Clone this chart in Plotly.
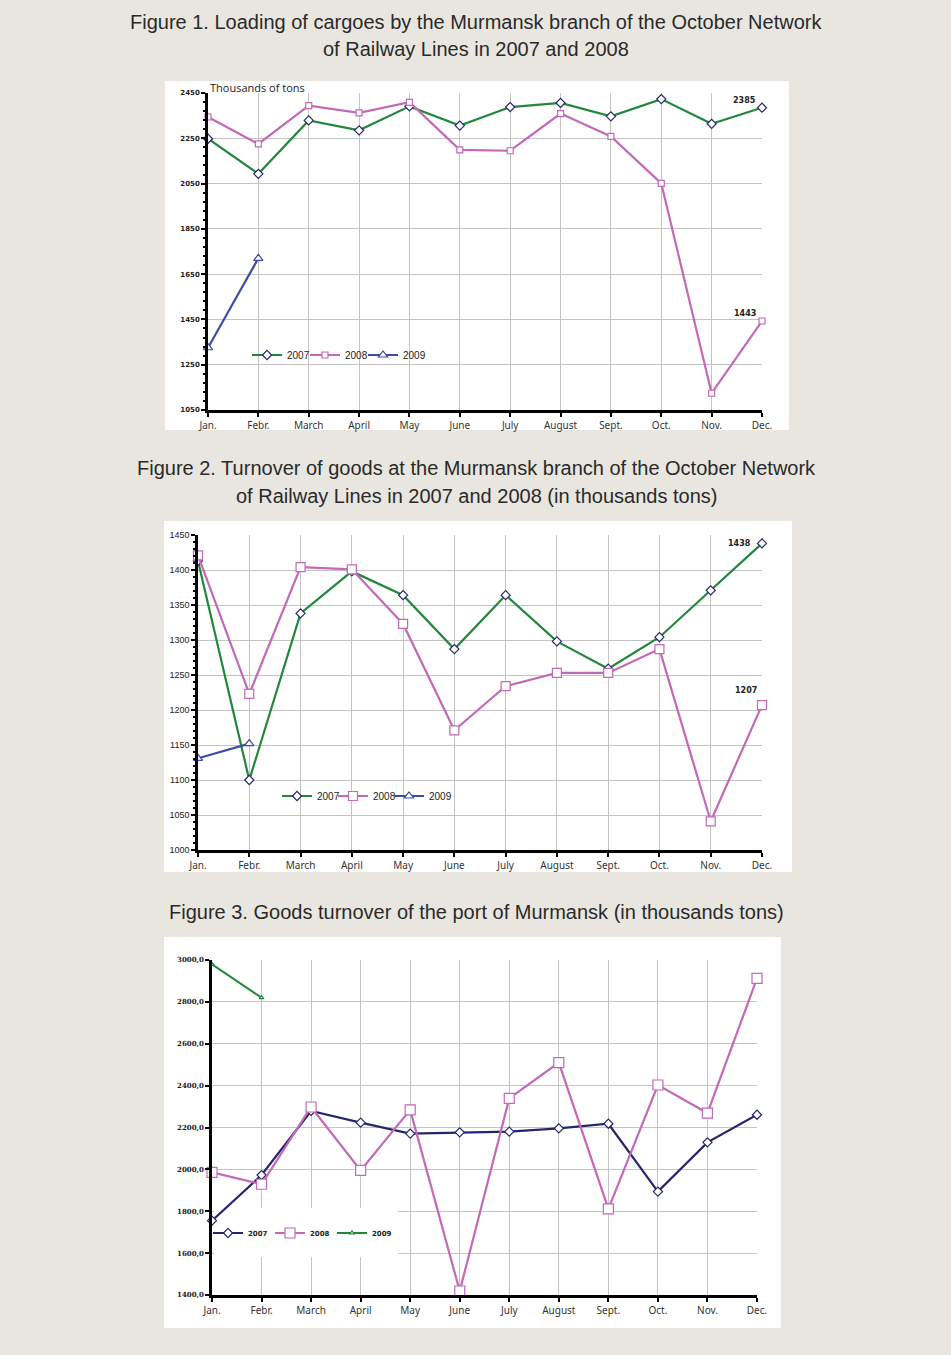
import plotly.graph_objects as go

W, H = 951, 1355

months = ["Jan.", "Febr.", "March", "April", "May", "June", "July",
          "August", "Sept.", "Oct.", "Nov.", "Dec."]

# Figure 1: loading of cargoes (thousands of tons)
f1_2007 = [2248, 2093, 2329, 2285, 2391, 2306, 2388, 2406, 2347, 2423, 2314, 2385]
f1_2008 = [2344, 2225, 2394, 2362, 2409, 2199, 2195, 2359, 2258, 2051, 1124, 1443]
f1_2009 = [1325, 1720]
f1_ticks = [1050, 1250, 1450, 1650, 1850, 2050, 2250, 2450]

# Figure 2: turnover of goods (thousands tons)
f2_2007 = [1413, 1100, 1338, 1398, 1364, 1287, 1364, 1298, 1259, 1304, 1371, 1438]
f2_2008 = [1421, 1223, 1404, 1401, 1323, 1171, 1234, 1253, 1253, 1287, 1041, 1207]
f2_2009 = [1131, 1152]
f2_ticks = [1000, 1050, 1100, 1150, 1200, 1250, 1300, 1350, 1400, 1450]

# Figure 3: port goods turnover (thousands tons)
f3_2007 = [1755, 1973, 2279, 2223, 2171, 2177, 2180, 2196, 2218, 1894, 2129, 2261]
f3_2008 = [1986, 1929, 2298, 1995, 2284, 1419, 2339, 2510, 1811, 2403, 2269, 2912]
f3_2009 = [2979, 2820]
f3_ticks = [1400, 1600, 1800, 2000, 2200, 2400, 2600, 2800, 3000]

BG = "#e9e6e0"
GREEN = "#23873a"
PINK = "#c468b8"
BLUE = "#3d4ca6"
NAVY = "#26266e"
GRID = "#c4c4c4"
TITLE_FONT = "Liberation Sans, Arial, sans-serif"
TICK_FONT = "Noto Sans, Open Sans, sans-serif"

def px(x):
    return x / W

def py(y):
    return 1 - y / H

xs = list(range(12))

fig = go.Figure()

def add(xa, ya, vals, name, color, symbol, size, lcolor, legend, lw=2.2):
    fig.add_trace(go.Scatter(
        x=xs[:len(vals)], y=vals, name=name, mode="lines+markers",
        xaxis=xa, yaxis=ya, legend=legend,
        line=dict(color=color, width=lw),
        marker=dict(symbol=symbol, size=size, color="white",
                    line=dict(color=lcolor, width=1.2)),
        showlegend=True, cliponaxis=False))

def spacer(xa, ya, legend):
    # invisible legend entry so the last real entry's label is not clipped
    fig.add_trace(go.Scatter(x=[None], y=[None], name=" ", mode="lines",
                             xaxis=xa, yaxis=ya, legend=legend,
                             line=dict(color="rgba(0,0,0,0)", width=0),
                             showlegend=True, hoverinfo="skip"))

# Figure 1 traces
add("x", "y", f1_2007, "2007", GREEN, "diamond", 7, NAVY, "legend")
add("x", "y", f1_2008, "2008", PINK, "square", 6, PINK, "legend")
add("x", "y", f1_2009, "2009", BLUE, "triangle-up", 8, BLUE, "legend")
spacer("x", "y", "legend")
# Figure 2 traces
add("x2", "y2", f2_2007, "2007", GREEN, "diamond", 7, NAVY, "legend2")
add("x2", "y2", f2_2008, "2008", PINK, "square", 9, PINK, "legend2")
add("x2", "y2", f2_2009, "2009", BLUE, "triangle-up", 8, BLUE, "legend2")
spacer("x2", "y2", "legend2")
# Figure 3 traces
add("x3", "y3", f3_2007, "2007", NAVY, "diamond", 7, NAVY, "legend3")
add("x3", "y3", f3_2008, "2008", PINK, "square", 10, PINK, "legend3")
add("x3", "y3", f3_2009, "2009", GREEN, "triangle-up", 4, GREEN, "legend3", lw=2)
spacer("x3", "y3", "legend3")

def xaxis(domain, anchor):
    return dict(domain=domain, anchor=anchor, range=[0, 11],
                tickvals=xs, ticktext=months, showgrid=True,
                gridcolor=GRID, gridwidth=1, zeroline=False,
                showline=True, linecolor="black", linewidth=2.5,
                ticks="outside", ticklen=4, tickwidth=2, tickcolor="black",
                tickfont=dict(family=TICK_FONT, size=10, color="#333"),
                fixedrange=True, automargin=False)

def yaxis(domain, anchor, rng, ticks, text, font, minor_dtick=None):
    d = dict(domain=domain, anchor=anchor, range=rng, tickvals=ticks,
             ticktext=text, showgrid=True, gridcolor=GRID, gridwidth=1,
             zeroline=False, showline=True, linecolor="black", linewidth=2.5,
             ticks="outside", ticklen=4, tickwidth=1.5, tickcolor="black",
             tickfont=font, fixedrange=True, automargin=False)
    if minor_dtick:
        d["minor"] = dict(ticks="outside", ticklen=2, tickcolor="black",
                          dtick=minor_dtick, tick0=rng[0], showgrid=False)
    return d

leg_font = dict(family="Liberation Sans, Arial", size=10, color="#222")
layout = dict(
    width=W, height=H, margin=dict(l=0, r=0, t=0, b=0, pad=0, autoexpand=False),
    paper_bgcolor=BG, plot_bgcolor="white",
    xaxis=xaxis([px(208), px(762)], "y"),
    yaxis=yaxis([py(410), py(93)], "x", [1050, 2450], f1_ticks,
                [str(v) for v in f1_ticks],
                dict(family="DejaVu Sans", size=7, color="#222", weight="bold"), 40),
    xaxis2=xaxis([px(198), px(762)], "y2"),
    yaxis2=yaxis([py(850), py(535)], "x2", [1000, 1450], f2_ticks,
                 [str(v) for v in f2_ticks],
                 dict(family="Liberation Sans, Arial, sans-serif", size=9, color="#222"), 10),
    xaxis3=xaxis([px(212), px(757)], "y3"),
    yaxis3=yaxis([py(1295), py(960)], "x3", [1400, 3000], f3_ticks,
                 [f"{v},0" for v in f3_ticks],
                 dict(family="DejaVu Serif", size=7, color="#222", weight="bold")),
    legend=dict(orientation="h", x=px(247), y=py(355), xanchor="left", yanchor="middle",
                bgcolor="rgba(0,0,0,0)", font=leg_font, itemwidth=30,
                entrywidth=13, entrywidthmode="pixels", itemclick=False),
    legend2=dict(orientation="h", x=px(277), y=py(796), xanchor="left", yanchor="middle",
                 bgcolor="rgba(0,0,0,0)", font=leg_font, itemwidth=30,
                 entrywidth=11, entrywidthmode="pixels", itemclick=False),
    legend3=dict(orientation="h", x=px(208), y=py(1233), xanchor="left", yanchor="middle",
                 bgcolor="rgba(0,0,0,0)",
                 font=dict(family="DejaVu Sans", size=7, color="#222", weight="bold"),
                 itemwidth=30, entrywidth=17, entrywidthmode="pixels", itemclick=False),
    showlegend=True,
)
fig.update_layout(**layout)

# white chart panels
panels = [(165, 81, 789, 430), (164, 521, 792, 872), (164, 937, 781, 1328)]
for x0, y0, x1, y1 in panels:
    fig.add_shape(type="rect", xref="paper", yref="paper", x0=px(x0), x1=px(x1),
                  y0=py(y1), y1=py(y0), fillcolor="white", line=dict(width=0), layer="below")

# white box behind the Figure 3 legend (covers gridlines, stays under the lines)
fig.add_shape(type="rect", xref="x3", yref="y3",
              x0=0.04, x1=3.75, y0=1581, y1=1815,
              fillcolor="white", line=dict(width=0), layer="between")

titles = [
    ("Figure 1. Loading of cargoes by the Murmansk branch of the October Network", 22),
    ("of Railway Lines in 2007 and 2008", 49),
    ("Figure 2. Turnover of goods at the Murmansk branch of the October Network", 468),
    ("of Railway Lines in 2007 and 2008 (in thousands tons)", 496),
    ("Figure 3. Goods turnover of the port of Murmansk (in thousands tons)", 912),
]
for text, y in titles:
    fig.add_annotation(text=text, xref="paper", yref="paper", x=px(476), y=py(y),
                       xanchor="center", yanchor="middle", showarrow=False,
                       font=dict(family=TITLE_FONT, size=20, color="#2a2a2a"))

fig.add_annotation(text="Thousands of tons", xref="paper", yref="paper", x=px(208), y=py(87),
                   xanchor="left", yanchor="middle", showarrow=False,
                   font=dict(family="Open Sans, sans-serif", size=11, color="#222"))

lab_font = dict(family="DejaVu Sans", size=8, color="#222", weight="bold")
fig.add_annotation(text=str(f1_2007[-1]), xref="x", yref="y", x=11, y=f1_2007[-1],
                   xanchor="right", yanchor="bottom", xshift=-4, yshift=1, showarrow=False, font=lab_font)
fig.add_annotation(text=str(f1_2008[-1]), xref="x", yref="y", x=11, y=f1_2008[-1],
                   xanchor="right", yanchor="bottom", xshift=-4, yshift=1, showarrow=False, font=lab_font)
fig.add_annotation(text=str(f2_2007[-1]), xref="x2", yref="y2", x=11, y=f2_2007[-1],
                   xanchor="right", yanchor="middle", xshift=-9, yshift=0, showarrow=False, font=lab_font)
fig.add_annotation(text=str(f2_2008[-1]), xref="x2", yref="y2", x=11, y=f2_2008[-1],
                   xanchor="right", yanchor="bottom", xshift=-3, yshift=8, showarrow=False, font=lab_font)

fig.write_html("out.html", config={"displayModeBar": False}, post_script=(
    "document.documentElement.style.margin='0';"
    "document.body.style.margin='0';"
    "document.body.style.padding='0';"
    "document.body.style.overflow='hidden';"
    "document.documentElement.style.overflow='hidden';"))
